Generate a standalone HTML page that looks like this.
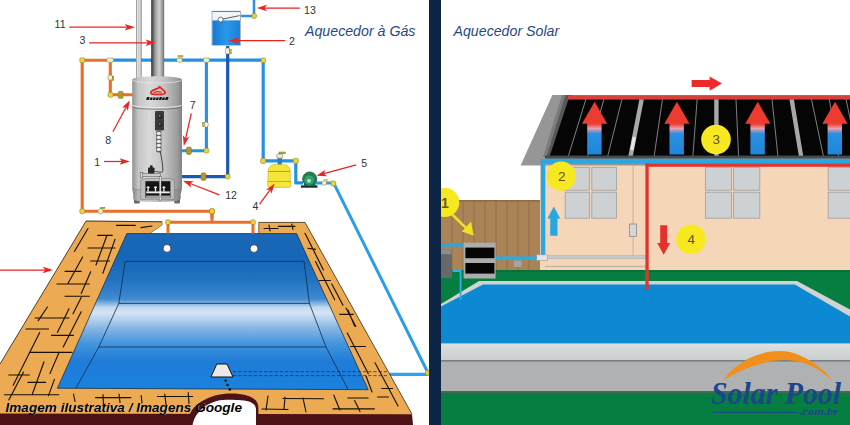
<!DOCTYPE html>
<html>
<head>
<meta charset="utf-8">
<title>Aquecedores</title>
<style>
html,body{margin:0;padding:0;background:#fff;}
body{width:850px;height:425px;overflow:hidden;font-family:"Liberation Sans",sans-serif;}
svg{display:block;}
text{font-family:"Liberation Sans",sans-serif;}
.ttl{font-style:italic;font-size:14.2px;fill:#1f4a8a;}
.num{fill:#333;}
.serif{font-family:"Liberation Serif",serif;}
</style>
</head>
<body>
<svg width="850" height="425" viewBox="0 0 850 425">
<defs>
<linearGradient id="rb" x1="0" y1="0" x2="0" y2="1">
<stop offset="0" stop-color="#ee3b30"/><stop offset="0.08" stop-color="#ee4a40"/>
<stop offset="0.2" stop-color="#e9a0b0"/><stop offset="0.36" stop-color="#2a8fe0"/><stop offset="1" stop-color="#1f86da"/>
</linearGradient>
<linearGradient id="gp11" x1="0" y1="0" x2="1" y2="0">
<stop offset="0" stop-color="#6e6e6e"/><stop offset="0.2" stop-color="#e6e6e6"/><stop offset="0.45" stop-color="#d0d0d0"/><stop offset="0.52" stop-color="#7c7c7c"/><stop offset="0.6" stop-color="#dadada"/><stop offset="0.85" stop-color="#c0c0c0"/><stop offset="1" stop-color="#6a6a6a"/>
</linearGradient>
<linearGradient id="gch" x1="0" y1="0" x2="1" y2="0">
<stop offset="0" stop-color="#2c2c2c"/><stop offset="0.12" stop-color="#5a5a5a"/><stop offset="0.3" stop-color="#9a9a9a"/><stop offset="0.6" stop-color="#d0d0d0"/><stop offset="0.8" stop-color="#a8a8a8"/><stop offset="1" stop-color="#6c6c6c"/>
</linearGradient>
<linearGradient id="ght" x1="0" y1="0" x2="1" y2="0">
<stop offset="0" stop-color="#8e8e8e"/><stop offset="0.12" stop-color="#c6c6c6"/><stop offset="0.35" stop-color="#dcdcdc"/><stop offset="0.65" stop-color="#c4c4c4"/><stop offset="0.9" stop-color="#9c9c9c"/><stop offset="1" stop-color="#7c7c7c"/>
</linearGradient>
<linearGradient id="gtk" x1="0" y1="0" x2="1" y2="0">
<stop offset="0" stop-color="#1878d2"/><stop offset="0.5" stop-color="#2a98ea"/><stop offset="1" stop-color="#1a80d8"/>
</linearGradient>
<linearGradient id="gw" x1="0" y1="233" x2="0" y2="390" gradientUnits="userSpaceOnUse">
<stop offset="0" stop-color="#1a68b6"/><stop offset="0.15" stop-color="#1666b8"/><stop offset="0.3" stop-color="#2272c2"/>
<stop offset="0.42" stop-color="#3f8ad0"/><stop offset="0.475" stop-color="#c4daf0"/><stop offset="0.51" stop-color="#d4e4f4"/>
<stop offset="0.6" stop-color="#8cb8e4"/><stop offset="0.7" stop-color="#4596de"/><stop offset="0.82" stop-color="#1e7cd8"/><stop offset="1" stop-color="#1a82de"/>
</linearGradient>
<marker id="ah" viewBox="0 0 10 8" refX="1" refY="4" markerWidth="8" markerHeight="6.4" markerUnits="userSpaceOnUse" orient="auto">
<path d="M0,0 L10,4 L0,8 L2.2,4 Z" fill="#e8201c" stroke="none"/>
</marker>
<linearGradient id="gcp" x1="0" y1="0" x2="0" y2="1"><stop offset="0" stop-color="#dedfdf"/><stop offset="1" stop-color="#c9cdcd"/></linearGradient>
<linearGradient id="glg" x1="0" y1="0" x2="1" y2="0"><stop offset="0" stop-color="#5a5a5a"/><stop offset="0.5" stop-color="#a8a8a8"/><stop offset="1" stop-color="#5e5e5e"/></linearGradient>
<filter id="nz" x="0" y="0" width="100%" height="100%"><feTurbulence type="fractalNoise" baseFrequency="0.85" numOctaves="2" seed="4" result="n"/><feColorMatrix in="n" type="matrix" values="0 0 0 0 0.45  0 0 0 0 0.45  0 0 0 0 0.45  0 0 0 1.6 -0.62" result="c"/><feComposite in="c" in2="SourceGraphic" operator="in"/></filter>

</defs>
<rect x="0" y="0" width="850" height="425" fill="#ffffff"/>
<g id="left">
<!-- ===== pipes ===== -->
<g fill="none" stroke-linejoin="round">
<!-- orange -->
<path d="M109,60.2 H82.2 V211.3 H212 V222 " stroke="#e96f2b" stroke-width="3.1"/>
<path d="M110.3,60.2 V94.8 H133" stroke="#e96f2b" stroke-width="3.1"/>
<path d="M168,233.5 V222.2 H253 V233.5" stroke="#e96f2b" stroke-width="3"/>
<!-- light blue top -->
<path d="M111,60.2 H263.2 V160.9 H295.8 V182.9 H303" stroke="#2492e4" stroke-width="3.2"/>
<path d="M206.4,60.2 V150.8 H182" stroke="#2492e4" stroke-width="3.1"/>
<!-- dark blue -->
<path d="M227.7,46 V176.7 H182" stroke="#1b58b6" stroke-width="3.2"/>
<!-- tank feed pipe -->
<path d="M254,0 V16 H240" stroke="#2a94e2" stroke-width="2.6"/>
<!-- pump outlet -->
<path d="M316,182.9 H333.6 L427.3,371.5" stroke="#2a9fe6" stroke-width="3"/>
<path d="M428.5,374.3 H388.5" stroke="#2aa6ec" stroke-width="3.2"/>
</g>
<!-- fittings -->
<g fill="#e9d23c" stroke="#8a7a20" stroke-width="0.5">
<rect x="79.8" y="57.8" width="5" height="5" rx="1.5"/>
<rect x="106.8" y="58" width="6.6" height="4.4" rx="1.6" fill="#f3f0d0"/>
<circle cx="110.3" cy="77.5" r="2.6" fill="#f3f0d0"/>
<rect x="108" y="92.3" width="5" height="5" rx="1.5"/>
<rect x="118.2" y="91.2" width="5" height="7.4" rx="1.5" fill="#b6952a"/>
<rect x="79.8" y="208.8" width="5" height="5" rx="1.5"/>
<circle cx="100.5" cy="211.3" r="2.6" fill="#f3f0d0"/>
<rect x="209.5" y="208.8" width="5" height="5" rx="1.5"/>
<rect x="165.6" y="219.8" width="4.8" height="4.8" rx="1.5"/>
<rect x="250.6" y="219.8" width="4.8" height="4.8" rx="1.5"/>
<rect x="176.8" y="58.2" width="5.4" height="4" rx="1.5" fill="#f3f0d0"/>
<rect x="203.4" y="58" width="6" height="4.4" rx="1.6" fill="#f3f0d0"/>
<rect x="261" y="57.9" width="4.8" height="4.8" rx="1.5"/>
<rect x="225.4" y="48" width="4.4" height="6" rx="1.5" fill="#f3f0d0"/>
<ellipse cx="206.2" cy="124.6" rx="2.2" ry="2.7" fill="#f7f5e2"/>
<rect x="204" y="148.2" width="4.8" height="4.8" rx="1.5"/>
<rect x="186.4" y="147" width="5" height="7.4" rx="1.5" fill="#b6952a"/>
<rect x="225.2" y="174.2" width="4.8" height="4.8" rx="1.5"/>
<rect x="201" y="172.8" width="5" height="7.6" rx="1.5" fill="#b6952a"/>
<rect x="260.6" y="158.3" width="5.2" height="5.2" rx="1.6"/>
<rect x="293.2" y="158.3" width="5.2" height="5.2" rx="1.6"/>
<rect x="251.8" y="13.6" width="4.6" height="4.8" rx="1.4"/>
<circle cx="324.2" cy="183" r="2.3" fill="#f7f5e2"/>
<rect x="323.6" y="179.2" width="4.6" height="1.4" fill="#c9b23a" stroke="none"/>
<rect x="330.8" y="180.9" width="5" height="5" rx="1.6"/>
<rect x="425.6" y="370.2" width="3.4" height="5" rx="1"/>
</g>
<g fill="#cdb63a" stroke="#6a5f1c" stroke-width="0.35">
<rect x="112.2" y="76.2" width="1.6" height="4.6"/>
<rect x="178" y="55.6" width="5" height="1.5"/>
<rect x="229.8" y="49.4" width="1.5" height="4.6"/>
<rect x="202.6" y="122.2" width="1.5" height="4.4"/>
<rect x="100.4" y="207.2" width="4.6" height="1.5"/>
</g>
<!-- thin vent pipe 11 -->
<rect x="136" y="0" width="5.6" height="78.4" fill="url(#gp11)"/>
<!-- chimney 3 -->
<rect x="151.2" y="0" width="13" height="78.4" fill="url(#gch)"/>
<!-- heater legs -->
<path d="M133.2,196 h7.4 l-1,7.4 h-5.2z M173.4,196 h7.4 l-1.2,7.4 h-5.2z" fill="url(#glg)"/>
<!-- heater body -->
<path d="M132.2,79.6 A24.9,3.4 0 0 1 182,79.6 V188 L179.6,199.4 A22.8,2.6 0 0 1 134,199.4 L132.2,188 Z" fill="url(#ght)"/>
<path d="M132.2,79.6 A24.9,3.4 0 0 1 182,79.6 V188 L179.6,199.4 A22.8,2.6 0 0 1 134,199.4 L132.2,188 Z" fill="#808080" filter="url(#nz)" opacity="0.38"/>
<path d="M132.2,188 L134,199.4 A22.8,2.6 0 0 0 179.6,199.4 L182,188 A24.9,2.6 0 0 1 132.2,188Z" fill="#000" opacity="0.08"/>
<path d="M132.2,79.6 A24.9,3.4 0 0 0 182,79.6" fill="none" stroke="#efefef" stroke-width="0.8" opacity="0.8"/>
<path d="M132.2,105 A24.9,2.6 0 0 0 182,105" fill="none" stroke="#ececec" stroke-width="0.9"/>
<path d="M132.2,106.6 A24.9,2.6 0 0 0 182,106.6" fill="none" stroke="#6a6a6a" stroke-width="0.8"/>
<path d="M132.2,188 A24.9,2.6 0 0 0 182,188" fill="none" stroke="#858585" stroke-width="0.7"/>
<!-- heater logo -->
<path d="M150.8,93 C150.2,90.6 154.4,89.8 157.2,88.6 C158.6,88 159.2,87.4 159.5,86.8 C160.8,88.8 165.4,90.6 165.2,92.8 C165,94.7 158,94.5 154.2,94.3 C152.2,94.2 151,93.9 150.8,93 Z" fill="none" stroke="#e4261f" stroke-width="1.8" stroke-linejoin="round"/>
<path d="M153.6,92.8 C155.6,91.6 158.8,91.4 161.8,92.2" fill="none" stroke="#e4261f" stroke-width="1.1"/>
<g fill="#161616" transform="translate(0,0) skewX(-16)" transform-origin="158 98.6">
<rect x="146.6" y="97.1" width="2.6" height="3"/><rect x="150" y="97.5" width="2.4" height="2.6"/><rect x="153.1" y="97.5" width="2.4" height="2.6"/><rect x="156.2" y="97.5" width="2.4" height="2.6"/><rect x="159.3" y="97.1" width="2.4" height="3"/><rect x="162.4" y="97.5" width="2.4" height="2.6"/><rect x="165.5" y="97.1" width="2.6" height="3"/>
</g>
<!-- control box -->
<rect x="155" y="111" width="9" height="19.4" rx="1" fill="#3a3a3a"/>
<circle cx="160.2" cy="116.4" r="1.9" fill="#1a1a1a"/><circle cx="160.2" cy="124.6" r="1.9" fill="#1a1a1a"/>
<circle cx="159.8" cy="116" r="0.9" fill="#8a8a8a"/><circle cx="159.8" cy="124.2" r="0.9" fill="#8a8a8a"/>
<rect x="156.2" y="130.4" width="5.2" height="22" rx="2.2" fill="#5a5a5a"/>
<g fill="#ececec"><ellipse cx="158.8" cy="133.4" rx="2.1" ry="1.6"/><ellipse cx="158.8" cy="137.4" rx="2.1" ry="1.6"/><ellipse cx="158.8" cy="141.4" rx="2.1" ry="1.6"/><ellipse cx="158.8" cy="145.4" rx="2.1" ry="1.6"/><ellipse cx="158.8" cy="149.4" rx="2.1" ry="1.6"/></g>
<path d="M160.4,151.6 C161.4,158 163.2,166 162.8,171 C162.4,173.4 158,171.6 155.2,171.4" fill="none" stroke="#303030" stroke-width="0.9"/>
<!-- burner -->
<path d="M140.7,180.4 L146,178.4 H169.4 L174.4,180.4 V199.3 H140.7 Z" fill="#bdbdbd" stroke="#6a6a6a" stroke-width="0.5"/>
<rect x="145.4" y="181.2" width="25" height="16.6" fill="#151515"/>
<rect x="141" y="173.8" width="19.6" height="2.6" fill="#cfcfcf" stroke="#4a4a4a" stroke-width="0.5"/>
<rect x="140.2" y="172.4" width="2.6" height="5.6" fill="#dcdcdc" stroke="#4a4a4a" stroke-width="0.5"/>
<rect x="148" y="167.6" width="6.6" height="5.8" rx="0.8" fill="#252525"/>
<rect x="150" y="165.4" width="2.6" height="2.6" fill="#252525"/>
<rect x="159.2" y="176.4" width="1.9" height="24" fill="#ededed" stroke="#3a3a3a" stroke-width="0.4"/>
<g fill="#ececec"><rect x="146.2" y="191.4" width="23.6" height="1.9"/>
<path d="M146.4,188 a1.7,1.7 0 0 1 3.4,0 h-1 v3.4 h-1.4 v-3.4z M153.8,188 a1.7,1.7 0 0 1 3.4,0 h-1 v3.4 h-1.4 v-3.4z M162.2,188 a1.7,1.7 0 0 1 3.4,0 h-1 v3.4 h-1.4 v-3.4z"/>
<rect x="146" y="195.6" width="24" height="2.2" fill="#a9a9a9"/></g>
<!-- tank -->
<rect x="212" y="11.4" width="28.4" height="33.8" fill="#eef6fb" stroke="#9aa7b0" stroke-width="0.8"/>
<rect x="212.4" y="20.4" width="27.6" height="24.6" fill="url(#gtk)"/>
<path d="M212,11.4 H240.4" stroke="#777" stroke-width="1"/>
<circle cx="220.6" cy="19.6" r="2.5" fill="#fff" stroke="#444" stroke-width="0.7"/>
<path d="M223,19 L239.6,15.6" stroke="#333" stroke-width="0.8"/>
<!-- filter -->
<rect x="277.6" y="157.6" width="4.2" height="7.4" fill="#2a7cc8"/>
<rect x="276.8" y="154.2" width="5.8" height="4" rx="1.2" fill="#f1edcf" stroke="#6a6530" stroke-width="0.5"/>
<rect x="279" y="152" width="6.2" height="1.8" fill="#c9b23a" stroke="#55501a" stroke-width="0.4"/>
<path d="M268,172 Q268,164.4 276,164.4 H282.4 Q290.3,164.4 290.3,172 V181.5 H290.8 V185.4 Q290.8,187.4 288.6,187.4 H269.8 Q267.6,187.4 267.6,185.4 V181.5 H268 Z" fill="#f7e63a" stroke="#c2ae2a" stroke-width="0.6"/>
<path d="M268.2,171.5 H290.1" stroke="#4a94cc" stroke-width="0.8"/>
<path d="M267.8,181.5 H290.6" stroke="#b89f22" stroke-width="0.8"/>
<!-- pump -->
<rect x="300.9" y="185.4" width="16.6" height="2.3" fill="#1a2a36"/>
<rect x="304" y="183.4" width="11.6" height="2.4" fill="#1f6a48"/>
<circle cx="309.7" cy="179" r="7.1" fill="#1f8152" stroke="#14583a" stroke-width="0.7"/>
<circle cx="309.2" cy="180" r="4.6" fill="#35a56e"/>
<circle cx="309" cy="180.8" r="2.5" fill="#a6e0c6" stroke="#1b6a46" stroke-width="0.6"/>
</g>
<g id="pool">
<!-- deck edge (maroon thickness) -->
<path d="M0,364 L0,425 L413,425 L412,414.2 Z" fill="#4d1216"/>
<!-- deck top -->
<path d="M86.1,221 L162.4,221.8 L162.4,225 L150.2,233.6 L258.7,233.6 L258.7,222.4 L305,222.4 L412,414.2 L0,413.5 L0,364 Z" fill="#ecaa52"/>
<path d="M86.1,221 L162.4,221.8 L162.4,225 L150.2,233.6" fill="none" stroke="#2a1c0a" stroke-width="0.9"/>
<path d="M86.1,221 L0,364" stroke="#2a1c0a" stroke-width="0.8" fill="none"/>
<path d="M258.7,233.6 V222.4 H305 L412,414.2" stroke="#3a2a10" stroke-width="0.8" fill="none"/>
<!-- gap between deck pieces at top (white) -->
<path d="M150.2,233.6 L162.4,225 L162.4,218 L258.2,218 L258.2,233.6 Z" fill="#ffffff"/>
<!-- water -->
<path d="M126.8,233.6 L296.6,233.6 L368.2,389.7 L57.4,388.2 Z" fill="url(#gw)" stroke="#16324f" stroke-width="0.8"/>
<!-- pool floor lines -->
<g fill="none" stroke="#12284a" stroke-width="0.8">
<path d="M125.3,261.3 H304"/>
<path d="M118.8,303.4 H309.4"/>
<path d="M98.8,347 H326"/>
<path d="M125.3,261.3 L118.8,303.4 L98.8,347 L76,388"/>
<path d="M304,261.3 L309.4,303.4 L326,347 L348,389.4"/>
</g>
<circle cx="167" cy="248.4" r="3.9" fill="#fff" stroke="#223" stroke-width="0.7"/>
<circle cx="254" cy="248.6" r="3.9" fill="#fff" stroke="#223" stroke-width="0.7"/>
<!-- drain -->
<path d="M233,371.7 H389 M233,375.6 H387" stroke="#1a2a44" stroke-width="0.7" stroke-dasharray="3.2 2" fill="none"/>
<path d="M216.8,364 H227 L233,377 H210.9 Z" fill="#e9e9e9" stroke="#111" stroke-width="1"/>
<circle cx="225.6" cy="380.6" r="1.2" fill="#111"/><circle cx="227.6" cy="385" r="1.3" fill="#111"/><circle cx="229.8" cy="389.4" r="1.4" fill="#111"/>
<!-- orange pipes over deck top -->
<path d="M168,233.5 V222.2 H253 V233.5" stroke="#e96f2b" stroke-width="3" fill="none"/>
<path d="M212,211.3 V222" stroke="#e96f2b" stroke-width="3.1" fill="none"/>
<g fill="#e9d23c" stroke="#8a7a20" stroke-width="0.5">
<rect x="165.6" y="219.8" width="4.8" height="4.8" rx="1.5"/>
<rect x="250.6" y="219.8" width="4.8" height="4.8" rx="1.5"/>
<rect x="209.5" y="208.8" width="5" height="5" rx="1.5"/>
</g>
<!-- cut-out at bottom -->
<path d="M188.5,425 L189.5,415 C193,404 210,393.4 231,393.4 C246,393.4 258.4,397 258.4,408 L258.4,425 Z" fill="#4d1216"/>
<path d="M192.6,425 C194,413 208,399.8 226.5,399.8 C244,399.8 256,400.5 256,410 L256,425 Z" fill="#ffffff"/>
<!-- tile lines -->
<g stroke="#17110a" stroke-width="1.15" fill="none" stroke-linecap="round">
<path d="M116.4,225.3 L135.4,225.3 M141.0,227.6 L152.0,226.0 M88.0,228.5 L74.4,251.5 M97.5,235.3 L112.3,235.3 M88.0,248.0 L115.0,248.0 M90.7,261.0 L109.6,261.0 M107.0,235.3 L96.0,265.0 M115.0,239.4 L102.9,273.2 M82.6,257.0 L67.7,284.0 M65.0,271.3 L81.2,271.3 M56.9,284.0 L89.3,284.0 M65.0,296.2 L89.3,296.2 M90.7,271.8 L81.2,293.5 M81.2,297.6 L73.0,313.8 M47.4,307.0 L38.2,320.6 M35.2,318.0 L69.0,318.0 M81.2,311.8 L63.2,347.0 M69.0,308.8 L57.4,332.4 M26.0,329.0 L48.5,329.0 M51.5,335.3 L73.5,335.3 M29.4,352.4 L72.0,352.4 M8.8,375.0 L29.4,375.0 M28.0,382.4 L45.6,382.4 M4.4,394.7 L58.8,394.7 M39.7,332.4 L13.2,385.3 M58.8,353.0 L50.0,373.5 M44.0,361.8 L32.4,394.0 M23.5,372.0 L8.8,400.0 M54.4,379.4 L48.5,395.6 M73.5,394.0 L75.0,401.5 M103.0,394.7 L103.5,404.4 M119.0,394.0 L120.0,402.4 M141.2,395.6 L142.0,403.0 M164.7,394.0 L166.2,405.9 M188.2,392.6 L189.0,403.5 M95.6,397.6 L130.9,397.6 M157.4,396.5 L192.6,396.5 M268.0,396.0 L266.0,410.0 M285.0,397.0 L284.0,409.0 M303.0,398.0 L306.0,412.0 M262.0,409.0 L288.0,409.5 M283.0,398.5 L323.5,398.7 M347.9,398.0 L368.2,398.0 M333.0,408.8 L374.4,408.8 M333.8,395.2 L339.8,410.0 M354.6,400.6 L360.0,411.5 M305.0,233.3 L323.4,270.0 M315.5,261.6 L334.7,299.7 M331.8,284.0 L343.0,305.3 M346.0,308.0 L355.8,326.5 M307.8,248.3 L315.5,249.4 M319.0,280.5 L330.4,280.5 M339.7,314.3 L353.3,314.3 M348.0,310.0 L354.6,326.0 M347.3,333.0 L368.2,373.6 M375.0,362.8 L398.0,406.0 M350.6,346.5 L365.5,346.5 M381.7,388.5 L392.5,388.5 M377.6,397.0 L388.5,397.0 M366.0,376.0 L372.0,392.0 M264.0,228.5 L278.0,228.5 M278.2,226.3 L295.0,226.3 M269.0,225.0 L270.0,231.0 M291.8,224.0 L293.0,229.5"/>
</g>
<!-- caption -->
<text x="5.5" y="411.5" font-size="13.6" font-weight="bold" font-style="italic" fill="#ffffff" opacity="0.55" transform="translate(0.8,0.8)">Imagem ilustrativa / Imagens Google</text>
<text x="5.5" y="411.5" font-size="13.6" font-weight="bold" font-style="italic" fill="#000000">Imagem ilustrativa / Imagens Google</text>
</g>
<!-- labels + arrows -->
<g class="num" font-size="10.6" fill="#333" style="font-size:10.6px">
<text x="54.6" y="27.7">11</text>
<text x="79.4" y="43.5">3</text>
<text x="304" y="13.8">13</text>
<text x="289" y="44.6">2</text>
<text x="105.2" y="143.6">8</text>
<text x="189.8" y="108.8">7</text>
<text x="94.2" y="166.2">1</text>
<text x="225.2" y="198.6">12</text>
<text x="252.6" y="210">4</text>
<text x="361.2" y="166.8">5</text>
</g>
<g fill="#ea2420" stroke="none">
<line x1="69.4" y1="27.2" x2="127.1" y2="27.2" stroke="#ea2420" stroke-width="1.25"/>
<polygon points="134.9,27.2 124.7,30.5 127.1,27.2 124.7,23.9"/>
<line x1="89.1" y1="42.8" x2="148.0" y2="42.8" stroke="#ea2420" stroke-width="1.25"/>
<polygon points="155.8,42.8 145.6,46.1 148.0,42.8 145.6,39.5"/>
<line x1="300.0" y1="8.0" x2="264.6" y2="8.0" stroke="#ea2420" stroke-width="1.25"/>
<polygon points="256.8,8.0 267.0,4.7 264.6,8.0 267.0,11.3"/>
<line x1="285.0" y1="40.6" x2="236.2" y2="40.6" stroke="#ea2420" stroke-width="1.25"/>
<polygon points="228.4,40.6 238.6,37.3 236.2,40.6 238.6,43.9"/>
<line x1="112.9" y1="131.7" x2="126.1" y2="107.2" stroke="#ea2420" stroke-width="1.25"/>
<polygon points="129.8,100.3 127.9,110.8 126.1,107.2 122.1,107.7"/>
<line x1="191.3" y1="113.5" x2="185.6" y2="138.4" stroke="#ea2420" stroke-width="1.25"/>
<polygon points="183.8,146.0 182.9,135.3 185.6,138.4 189.3,136.8"/>
<line x1="104.0" y1="161.5" x2="122.0" y2="161.5" stroke="#ea2420" stroke-width="1.25"/>
<polygon points="129.8,161.5 119.6,164.8 122.0,161.5 119.6,158.2"/>
<line x1="219.2" y1="194.8" x2="190.2" y2="183.5" stroke="#ea2420" stroke-width="1.25"/>
<polygon points="182.9,180.7 193.6,181.3 190.2,183.5 191.2,187.5"/>
<line x1="259.6" y1="204.2" x2="270.1" y2="189.8" stroke="#ea2420" stroke-width="1.25"/>
<polygon points="274.7,183.5 271.4,193.7 270.1,189.8 266.0,189.8"/>
<line x1="356.2" y1="164.8" x2="323.8" y2="173.6" stroke="#ea2420" stroke-width="1.25"/>
<polygon points="316.3,175.7 325.3,169.8 323.8,173.6 327.0,176.2"/>
<line x1="0.0" y1="270.0" x2="45.2" y2="270.0" stroke="#ea2420" stroke-width="1.25"/>
<polygon points="53.0,270.0 42.8,273.3 45.2,270.0 42.8,266.7"/>
</g>

<g id="right">
<!-- house wall -->
<rect x="540" y="158" width="310" height="114" fill="#f6d6b9"/>
<!-- fence -->
<rect x="441" y="200" width="99" height="72.5" fill="#aa8457"/>
<rect x="441" y="200" width="99" height="1.6" fill="#8e6c46"/>
<g stroke="#906e48" stroke-width="0.9">
<line x1="452" y1="200.5" x2="452" y2="272"/><line x1="463" y1="200.5" x2="463" y2="272"/>
<line x1="474" y1="200.5" x2="474" y2="272"/><line x1="485" y1="200.5" x2="485" y2="272"/>
<line x1="496" y1="200.5" x2="496" y2="272"/><line x1="507" y1="200.5" x2="507" y2="272"/>
<line x1="518" y1="200.5" x2="518" y2="272"/><line x1="529" y1="200.5" x2="529" y2="272"/>
</g>
<!-- grass -->
<rect x="441" y="270" width="409" height="155" fill="#067e42"/>
<rect x="441" y="270" width="409" height="2" fill="#0a7038"/>
<!-- pool coping back -->
<polygon points="479,281 797,281 850,309.5 850,345 441,345 441,304" fill="#d0d2d3"/>
<!-- water -->
<polygon points="483,284.6 794.8,284.6 850,316.6 850,343.5 441,343.5 441,306.6" fill="#0d89d4"/>
<!-- front coping -->
<rect x="441" y="343.7" width="409" height="17" fill="url(#gcp)"/>
<rect x="441" y="360.4" width="409" height="31.4" fill="#afb1b3"/>
<rect x="441" y="360.2" width="409" height="1.3" fill="#6e747a"/>
<rect x="441" y="391" width="409" height="1.8" fill="#4a6a58"/>
<!-- windows -->
<g fill="#cdd1d4" stroke="#a3a3a3" stroke-width="0.9">
<rect x="565.2" y="167.3" width="24.2" height="22.9"/><rect x="591.8" y="167.3" width="24.6" height="22.9"/>
<rect x="565.2" y="192.2" width="24.2" height="26"/><rect x="591.8" y="192.2" width="24.6" height="26"/>
<rect x="705.4" y="167.3" width="26.2" height="22.9"/><rect x="733.6" y="167.3" width="26.2" height="22.9"/>
<rect x="705.4" y="192.2" width="26.2" height="26"/><rect x="733.6" y="192.2" width="26.2" height="26"/>
<rect x="828.2" y="167.3" width="26" height="22.9"/>
<rect x="828.2" y="192.2" width="26" height="26"/>
</g>
<!-- downspout + switch -->
<rect x="632.5" y="165" width="1.2" height="92" fill="#c9b9a6"/>
<rect x="629.5" y="224" width="7" height="12.5" fill="#d6d6d6" stroke="#8a8a8a" stroke-width="0.8"/>
<!-- gray return pipe -->
<rect x="545" y="265.8" width="101" height="1.3" fill="#c3b2a6"/>
<rect x="547.6" y="255.6" width="98" height="3.2" fill="#c9c9c9" stroke="#a9a9a9" stroke-width="0.5"/>
<!-- roof -->
<polygon points="552.4,95 850,95 850,165.6 520.6,165.6" fill="#969696"/>
<polygon points="562,95 572,95 553,157 543,157" fill="#7c7c7c"/>
<polygon points="565.5,95 572,95 553,157 546.5,157" fill="#585858"/>
<polygon points="568.6,99 850,99 850,156.4 549.6,156.4" fill="#050505"/>
<!-- panel dividers -->
<g stroke="#8c8c8c" stroke-width="0.9">
<line x1="586" y1="99" x2="568" y2="157"/>
<line x1="604" y1="99" x2="587.5" y2="157"/>
<line x1="622" y1="99" x2="607.5" y2="157"/>
<line x1="662.5" y1="99" x2="654" y2="157"/>
<line x1="697.2" y1="99" x2="692.8" y2="157"/>
<line x1="736" y1="99" x2="738.6" y2="157"/>
<line x1="772" y1="99" x2="778" y2="157"/>
<line x1="811.4" y1="99" x2="823.6" y2="157"/>
<line x1="829.3" y1="99" x2="838.7" y2="157"/>
<line x1="846" y1="99" x2="858" y2="157"/>
</g>
<g stroke="#a8a8a8" stroke-width="4.4">
<line x1="641.7" y1="99" x2="630.4" y2="157"/>
<line x1="716.4" y1="99" x2="716.4" y2="157"/>
<line x1="791.6" y1="99" x2="801.2" y2="157"/>
</g>
<line x1="634.3" y1="137" x2="631.8" y2="150" stroke="#e6e6e6" stroke-width="3.4"/>
<rect x="545" y="155.6" width="305" height="3" fill="#4a4a4a"/>
<!-- red top line / blue bottom line -->
<rect x="568" y="95.4" width="282" height="4.2" fill="#d9403a"/>
<rect x="540.8" y="158.8" width="310" height="4.8" fill="#2aa7e1"/>
<rect x="540.8" y="160" width="4.5" height="95" fill="#2aa7e1"/>
<rect x="536.6" y="254.8" width="11" height="5.6" fill="#e4e4e4" stroke="#9a9a9a" stroke-width="0.6"/>
<!-- red pipes -->
<rect x="645.5" y="163.6" width="204.5" height="3.2" fill="#e0352f"/>
<rect x="645.4" y="163.6" width="3.3" height="126.4" fill="#e0352f"/>
<!-- roof arrows -->
<g id="ra">
<rect x="587.2" y="122" width="14.4" height="32.5" fill="url(#rb)"/>
<polygon points="594.6,101.8 607.2,123.8 582,123.8" fill="#ee3b30"/>
</g>
<use href="#ra" x="82.3"/><use href="#ra" x="163.2"/><use href="#ra" x="240.4"/>
<!-- top red arrow -->
<polygon points="691.6,80 709.6,80 709.6,76.4 722,83.5 709.6,90.7 709.6,87 691.6,87" fill="#ee2b2b"/>
<!-- blue up arrow -->
<polygon points="553.8,206.4 560.2,218.4 557.5,218.4 557.5,235.8 550.2,235.8 550.2,218.4 547.5,218.4" fill="#2aa7e1"/>
<!-- red down arrow -->
<polygon points="660.2,225.3 667.2,225.3 667.2,243 670.2,243 663.7,254.8 657.2,243 660.2,243" fill="#e6302c"/>
<!-- left blue pipes and equipment -->
<rect x="441" y="243.2" width="23" height="3.4" fill="#2aa7e1"/>
<rect x="495.6" y="256.5" width="41" height="3.6" fill="#26aeea"/>
<rect x="514" y="260.6" width="7.6" height="6.4" fill="#a4a4a4"/>
<rect x="463.6" y="242.7" width="32" height="35.8" fill="#adadad"/>
<rect x="465.4" y="247.6" width="29" height="10.6" fill="#060606"/>
<rect x="465.4" y="263" width="29" height="10.6" fill="#060606"/>
<path d="M441,249.8 h6 q5,0.6 5,6 v22.2 h-11z" fill="#686868"/>
<path d="M441,249.8 h6 q4,0.4 4.8,4.4 h-10.8z" fill="#8c8c8c"/>
<path d="M452.6,271 h8 v28.5" fill="none" stroke="#36aee6" stroke-width="1.8"/>
<!-- circles -->
<g fill="#f8e820">
<circle cx="444.6" cy="202.4" r="14.6"/>
<circle cx="561.3" cy="176.1" r="14.6"/>
<circle cx="716" cy="139.5" r="14.8"/>
<circle cx="691" cy="239.3" r="14.8"/>
</g>
<g font-size="13.4" fill="#5f5028" text-anchor="middle">
<text x="445" y="208" font-size="14" font-weight="bold" fill="#6a5a22">1</text>
<text x="561.8" y="180.6">2</text>
<text x="716.3" y="144.3">3</text>
<text x="691.2" y="243.8">4</text>
</g>
<!-- yellow arrow -->
<line x1="452" y1="214.2" x2="467.4" y2="229.4" stroke="#f3df22" stroke-width="2.6"/>
<polygon points="473.7,235.7 461.8,231.6 471,221.6" fill="#f3df22"/>
<!-- logo -->
<path d="M723,380.5 C742,353.6 778,344.8 800,355.6 C816,362.6 827,373 833,381.5 C815,363.2 794,358 775,360.6 C752,364.6 736,372.2 723,380.5 Z" fill="#f18f1c"/>
<text class="serif" x="711" y="404" font-size="32" font-weight="bold" font-style="italic" fill="#1b4688" textLength="130" lengthAdjust="spacingAndGlyphs">Solar Pool</text>
<rect x="712.5" y="411.8" width="84.5" height="1.1" fill="#1b4688"/>
<text class="serif" x="799.5" y="414.5" font-size="10.5" font-weight="bold" font-style="italic" fill="#1b4688" textLength="38.5" lengthAdjust="spacingAndGlyphs">.com.br</text>
</g>

<rect x="429" y="0" width="12" height="425" fill="#0c2545"/>
<text class="ttl" x="305" y="36">Aquecedor à Gás</text>
<text class="ttl" x="453.5" y="35.6">Aquecedor Solar</text>
</svg>
</body>
</html>
